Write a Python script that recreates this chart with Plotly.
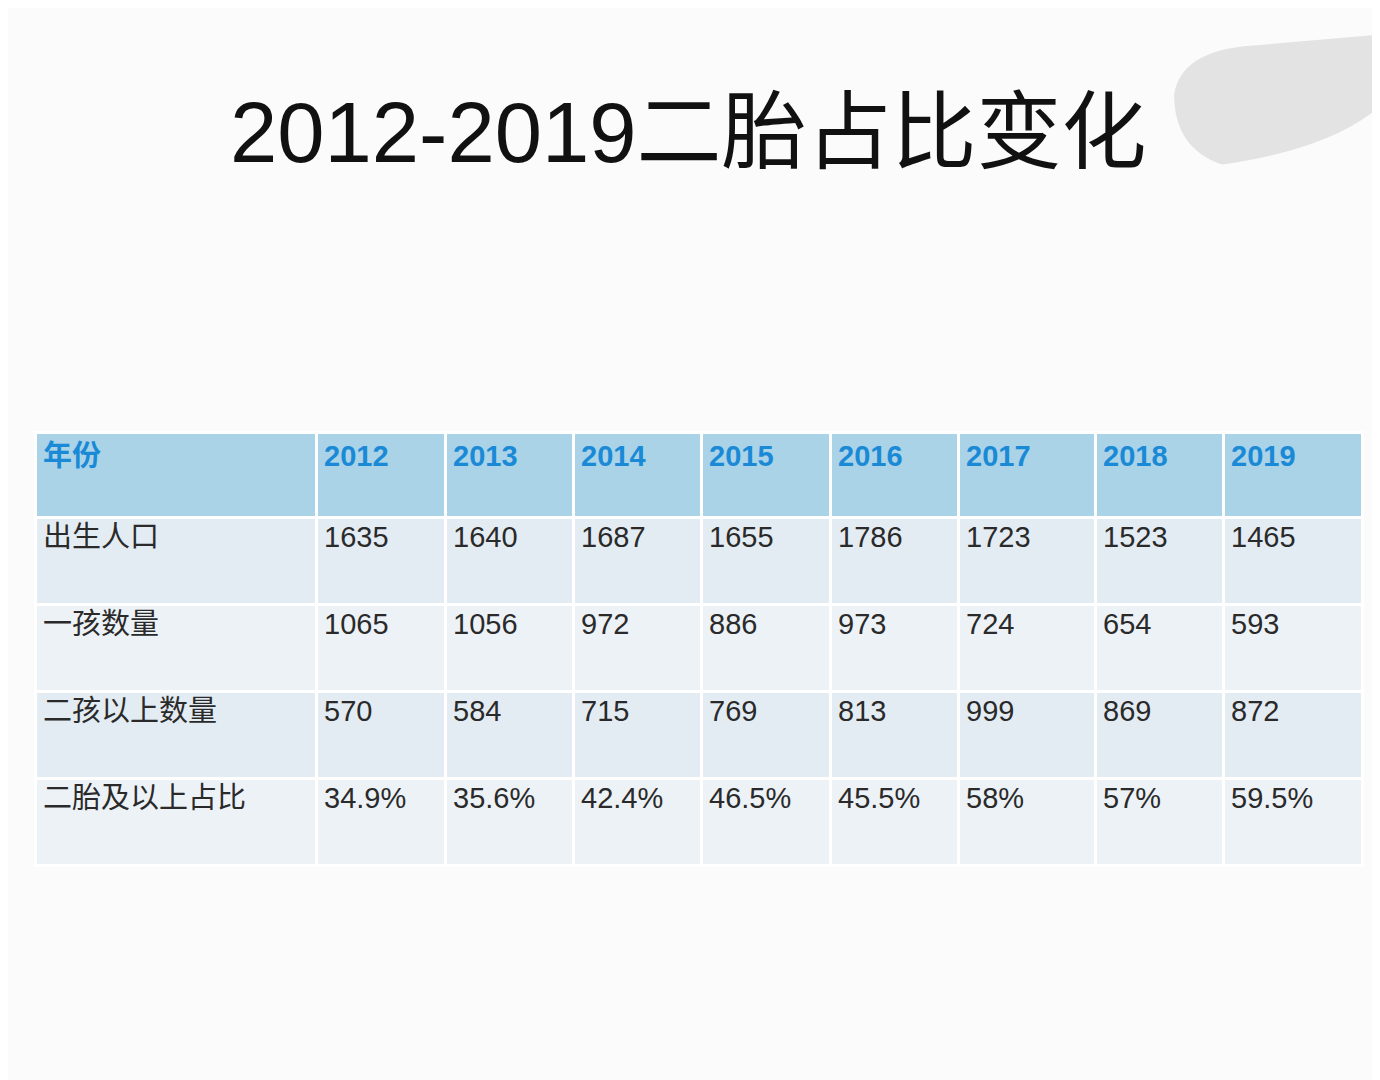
import plotly.graph_objects as go

years = ["2012","2013","2014","2015","2016","2017","2018","2019"]
row_labels = ["出生人口","一孩数量","二孩以上数量","二胎及以上占比"]
births = ["1635","1640","1687","1655","1786","1723","1523","1465"]
first_child = ["1065","1056","972","886","973","724","654","593"]
second_plus = ["570","584","715","769","813","999","869","872"]
share = ["34.9%","35.6%","42.4%","46.5%","45.5%","58%","57%","59.5%"]

rows = [births, first_child, second_plus, share]
header = ["<b>年份</b>"] + ["<b>%s</b>" % y for y in years]
cols = [row_labels] + [[r[i] for r in rows] for i in range(len(years))]

font = "Liberation Sans, Noto Sans CJK SC, sans-serif"
row_fill = ["#e4ecf3", "#edf2f7", "#e4ecf3", "#edf2f7"]

fig = go.Figure(go.Table(
    domain=dict(x=[27/1380, 1354/1380], y=[0, 1-424/1080]),
    columnwidth=[281,129,128,128,129,128,137,128,139],
    header=dict(values=header, fill_color="#aad3e7", align="left",
                height=85, line=dict(color="white", width=3),
                font=dict(family=font, size=29, color="#1b8ad6")),
    cells=dict(values=cols, fill_color=[row_fill]*9, align="left",
               height=87, line=dict(color="white", width=3),
               font=dict(family=font, size=29, color="#2a2a2a")),
))

fig.add_annotation(text="2012-2019二胎占比变化", x=680/1380, y=1-75/1080,
                   xref="paper", yref="paper", showarrow=False,
                   font=dict(family=font, size=85, color="#111111"))
fig.add_shape(type="path", xref="paper", yref="paper",
              path="M 0.845 0.92 Q 0.85 0.96 0.90 0.965 L 0.99 0.975 Q 1.01 0.95 0.995 0.91 Q 0.96 0.87 0.88 0.855 Q 0.845 0.87 0.845 0.92 Z",
              fillcolor="#e3e3e3", line=dict(width=0))

fig.update_layout(width=1380, height=1080, margin=dict(l=0, r=0, t=0, b=0),
                  paper_bgcolor="#fbfbfb", plot_bgcolor="#fbfbfb")
fig.write_html("out.html")
